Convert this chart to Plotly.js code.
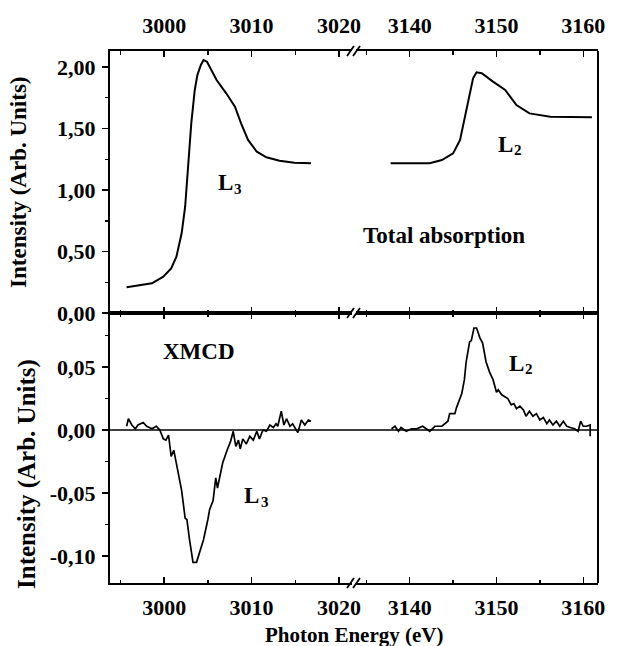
<!DOCTYPE html>
<html>
<head>
<meta charset="utf-8">
<script src="https://cdn.plot.ly/plotly-3.0.1.min.js"></script>
<style>html,body{margin:0;padding:0;background:#fff;}</style>
</head>
<body>
<div id="chart" style="width:620px;height:646px;"></div>
<script>
// ---- Data ----
const energyTotL3 = [2995.7,2997.2,2998.6,2999.9,3000.8,3001.4,3002.0,3002.4,3002.7,3003.1,3003.5,3003.8,3004.2,3004.5,3004.9,3006.0,3007.1,3008.1,3008.8,3009.6,3010.6,3011.7,3013.2,3014.9,3016.8];
const totalL3 = [0.209,0.228,0.241,0.295,0.363,0.458,0.648,0.864,1.136,1.542,1.813,1.935,2.016,2.057,2.043,1.894,1.786,1.677,1.542,1.407,1.311,1.266,1.238,1.222,1.217];

const energyTotL2 = [3137.8,3142.3,3143.7,3145.0,3145.8,3146.3,3146.9,3147.3,3147.7,3148.3,3149.6,3151.0,3152.3,3153.8,3156.2,3161.0];
const totalL2 = [1.217,1.217,1.244,1.298,1.407,1.569,1.786,1.908,1.957,1.949,1.881,1.813,1.691,1.623,1.596,1.591];

const energyXmcdL3 = [2995.7,2995.9,2996.3,2996.7,2997.0,2997.6,2998.0,2998.6,2999.1,2999.5,2999.9,3000.2,3000.5,3000.8,3001.1,3001.6,3002.0,3002.4,3002.6,3002.9,3003.3,3003.7,3004.1,3004.5,3005.0,3005.2,3005.6,3005.9,3006.1,3006.4,3006.7,3007.2,3007.6,3007.9,3008.2,3008.5,3008.7,3009.0,3009.4,3009.8,3010.2,3010.6,3010.9,3011.3,3011.7,3012.1,3012.5,3012.8,3013.0,3013.4,3013.7,3014.0,3014.4,3014.7,3015.3,3015.7,3016.1,3016.5,3016.8];
const xmcdL3 = [0.003,0.009,0.004,0.001,0.004,0.006,0.003,0.001,0.003,0.000,-0.007,-0.008,-0.004,-0.021,-0.016,-0.034,-0.048,-0.070,-0.071,-0.087,-0.105,-0.105,-0.095,-0.087,-0.071,-0.063,-0.056,-0.038,-0.046,-0.037,-0.026,-0.016,-0.009,-0.001,-0.013,-0.008,-0.015,-0.007,-0.011,-0.005,-0.008,-0.001,-0.007,0.000,-0.001,0.004,0.002,0.005,0.003,0.015,0.004,0.009,0.003,0.005,-0.002,0.008,0.004,0.008,0.007];

const energyXmcdL2 = [3137.9,3138.3,3138.7,3139.0,3139.6,3140.2,3140.8,3141.5,3141.9,3142.3,3142.9,3143.7,3144.4,3144.6,3145.2,3145.4,3146.0,3146.3,3146.5,3146.9,3147.1,3147.4,3147.7,3148.1,3148.4,3148.8,3149.2,3149.6,3150.0,3150.2,3150.6,3151.0,3151.3,3151.7,3152.0,3152.3,3152.7,3153.1,3153.4,3153.8,3154.2,3154.6,3155.0,3155.4,3155.8,3156.1,3156.5,3156.9,3157.3,3157.7,3158.1,3158.5,3159.0,3159.4,3159.7,3160.0,3160.4,3160.8,3160.8];
const xmcdL2 = [0.001,0.003,-0.001,0.002,-0.001,0.001,0.001,0.003,0.001,-0.001,0.003,0.003,0.007,0.013,0.013,0.018,0.029,0.040,0.054,0.070,0.071,0.081,0.081,0.073,0.069,0.054,0.046,0.040,0.030,0.032,0.028,0.026,0.025,0.020,0.021,0.017,0.019,0.016,0.011,0.015,0.011,0.013,0.008,0.010,0.005,0.008,0.004,0.007,0.003,0.007,0.003,0.002,0.001,-0.001,0.007,0.003,0.003,0.004,-0.005];

// Tick labels
const xLeftTicks = [3000, 3010, 3020];
const xLeftMinor = [2995, 3005, 3015];
const xRightTicks = [3140, 3150, 3160];
const xRightMinor = [3135, 3145, 3155];
const yTopTicks = [0, 0.5, 1.0, 1.5, 2.0];
const yTopLabels = ['0,00', '0,50', '1,00', '1,50', '2,00'];
const yTopMinor = [0.25, 0.75, 1.25, 1.75];
const yBotTicks = [-0.10, -0.05, 0.0, 0.05];
const yBotLabels = ['-0,10', '-0,05', '0,00', '0,05'];
const yBotMinor = [-0.075, -0.025, 0.025, 0.075];

// ---- Plot ----
const FONT = 'Liberation Serif';
const lineStyle = {color: '#000', width: 2};

const traces = [
  {x: energyTotL3, y: totalL3, xaxis: 'x3', yaxis: 'y2', type: 'scatter', mode: 'lines', line: lineStyle, hoverinfo: 'skip'},
  {x: energyTotL2, y: totalL2, xaxis: 'x4', yaxis: 'y2', type: 'scatter', mode: 'lines', line: lineStyle, hoverinfo: 'skip'},
  {x: energyXmcdL3, y: xmcdL3, xaxis: 'x', yaxis: 'y', type: 'scatter', mode: 'lines', line: {color: '#000', width: 1.7}, hoverinfo: 'skip'},
  {x: energyXmcdL2, y: xmcdL2, xaxis: 'x2', yaxis: 'y', type: 'scatter', mode: 'lines', line: {color: '#000', width: 1.7}, hoverinfo: 'skip'}
];

function bold(size) { return {family: FONT, size: size, color: '#000', weight: 'bold'}; }
const tickFont = bold(22);
const split = 0.5075;
const leftDom = [0, 0.496], rightDom = [0.504, 1];
const leftRange = [2993.8, 3021.5], rightRange = [3133.8, 3161.7];

function xAxis(dom, range, vals, minor, anchor, side, standoff) {
  return {
    domain: dom, range: range, anchor: anchor, side: side,
    tickmode: 'array', tickvals: vals, ticktext: vals.map(String),
    ticks: 'inside', ticklen: 6, tickwidth: 1.5, tickcolor: '#000',
    minor: {tickmode: 'array', tickvals: minor, ticks: 'inside', ticklen: 3.5, tickwidth: 1.5, tickcolor: '#000'},
    showline: true, linecolor: '#000', linewidth: 2, mirror: 'ticks',
    showgrid: false, zeroline: false, tickfont: tickFont, ticklabelstandoff: standoff
  };
}

function yAxis(dom, range, vals, labels, minor) {
  return {
    domain: dom, range: range, anchor: 'x',
    tickmode: 'array', tickvals: vals, ticktext: labels,
    ticks: 'outside', ticklen: 6, tickwidth: 1.5, tickcolor: '#000',
    minor: {tickmode: 'array', tickvals: minor, ticks: 'outside', ticklen: 3, tickwidth: 1.5, tickcolor: '#000'},
    showline: true, linecolor: '#000', linewidth: 2,
    showgrid: false, zeroline: false, tickfont: tickFont, ticklabelstandoff: 2
  };
}

const layout = {
  width: 620, height: 646,
  margin: {l: 110, r: 22, t: 51, b: 63},
  paper_bgcolor: '#fff', plot_bgcolor: '#fff',
  showlegend: false,
  font: {family: FONT, color: '#000'},
  xaxis: xAxis(leftDom, leftRange, xLeftTicks, xLeftMinor, 'y', 'bottom', 4),
  xaxis2: xAxis(rightDom, rightRange, xRightTicks, xRightMinor, 'y', 'bottom', 4),
  xaxis3: Object.assign(xAxis(leftDom, leftRange, xLeftTicks, xLeftMinor, 'y2', 'top', 7), {matches: 'x'}),
  xaxis4: Object.assign(xAxis(rightDom, rightRange, xRightTicks, xRightMinor, 'y2', 'top', 7), {matches: 'x2'}),
  yaxis: yAxis([0, split], [-0.1214, 0.0929], yBotTicks, yBotLabels, yBotMinor),
  yaxis2: yAxis([split, 1], [0, 2.13], yTopTicks, yTopLabels, yTopMinor),
  shapes: [
    {type: 'line', xref: 'paper', yref: 'paper', x0: 1, x1: 1, y0: 0, y1: 1, line: {color: '#000', width: 2}},
    {type: 'line', xref: 'paper', yref: 'y', x0: 0, x1: 1, y0: 0, y1: 0, line: {color: '#000', width: 1.5}}
  ],
  annotations: [
    {text: 'Photon Energy (eV)', xref: 'paper', yref: 'paper', x: 0.5, y: -0.0975, xanchor: 'center', yanchor: 'middle', showarrow: false, font: bold(21)},
    {text: 'Intensity (Arb. Units)', xref: 'paper', yref: 'paper', x: -0.1865, y: 0.7538, textangle: -90, xanchor: 'center', yanchor: 'middle', showarrow: false, font: bold(23)},
    {text: 'Intensity (Arb. Units)', xref: 'paper', yref: 'paper', x: -0.170, y: 0.205, textangle: -90, xanchor: 'center', yanchor: 'middle', showarrow: false, font: bold(25)},
    {text: 'Total absorption', xref: 'x4', yref: 'y2', x: 3144.0, y: 0.634, showarrow: false, font: bold(23)},
    {text: 'XMCD', xref: 'x', yref: 'y', x: 3004.0, y: 0.062, showarrow: false, font: bold(23)}
  ]
};

// Edge labels "L" with a separate subscript digit
const edgeLabels = [
  {sub: '3', xref: 'x3', yref: 'y2', x: 3007.0, y: 1.06},
  {sub: '2', xref: 'x4', yref: 'y2', x: 3151.0, y: 1.37},
  {sub: '3', xref: 'x', yref: 'y', x: 3010.0, y: -0.052},
  {sub: '2', xref: 'x2', yref: 'y', x: 3152.3, y: 0.053}
];
edgeLabels.forEach(function (e) {
  layout.annotations.push({text: 'L', xref: e.xref, yref: e.yref, x: e.x, y: e.y, xanchor: 'center', yanchor: 'middle', showarrow: false, font: bold(23)});
  layout.annotations.push({text: e.sub, xref: e.xref, yref: e.yref, x: e.x, y: e.y, xanchor: 'left', yanchor: 'middle', xshift: 7, yshift: -6, showarrow: false, font: bold(15)});
});

// axis-break marks "//" on the three horizontal frame lines
[1, split, 0].forEach(function (yp) {
  [-7, -1].forEach(function (dx) {
    layout.shapes.push({
      type: 'line', xref: 'paper', yref: 'paper',
      xsizemode: 'pixel', ysizemode: 'pixel',
      xanchor: 0.5, yanchor: yp,
      x0: dx, x1: dx + 7, y0: -5, y1: 5,
      line: {color: '#000', width: 1.8}
    });
  });
});

Plotly.newPlot('chart', traces, layout, {staticPlot: true, displayModeBar: false});
</script>
</body>
</html>
